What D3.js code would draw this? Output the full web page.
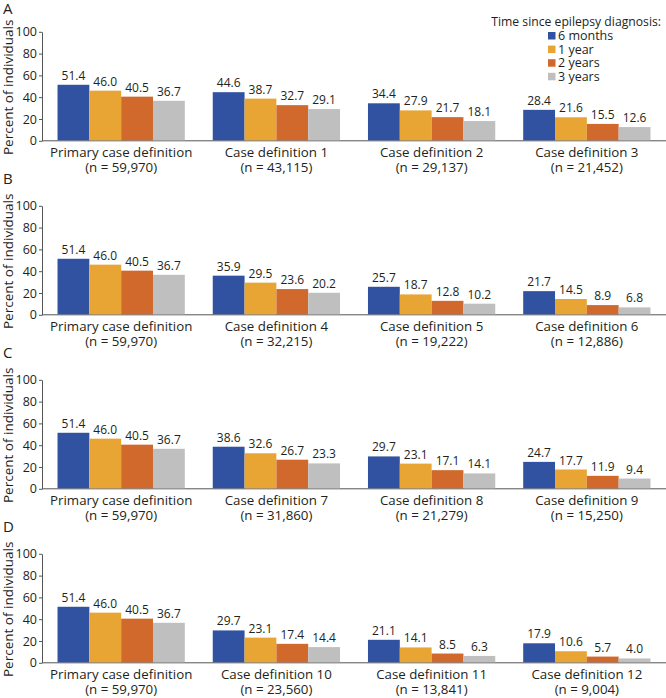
<!DOCTYPE html>
<html>
<head>
<meta charset="utf-8">
<script src="https://cdn.jsdelivr.net/npm/d3@7"></script>
<style>
  html, body { margin: 0; padding: 0; background: #fff; }
  svg { display: block; font-family: "Open Sans", sans-serif; }
</style>
</head>
<body>
<svg id="chart" width="666" height="698"></svg>
<script>
// ---------- data ----------
const seriesNames = ["6 months", "1 year", "2 years", "3 years"];
const seriesColors = ["#3152a0", "#e8a534", "#d0692b", "#bfbfbf"];
const legendTitle = "Time since epilepsy diagnosis:";
const panelLetters = ["A", "B", "C", "D"];
const yTicks = [0, 20, 40, 60, 80, 100];
const yLabel = "Percent of individuals";

const categoriesA = ["Primary case definition", "Case definition 1", "Case definition 2", "Case definition 3"];
const nA = ["59,970", "43,115", "29,137", "21,452"];
const valuesA = [[51.4, 46.0, 40.5, 36.7], [44.6, 38.7, 32.7, 29.1], [34.4, 27.9, 21.7, 18.1], [28.4, 21.6, 15.5, 12.6]];

const categoriesB = ["Primary case definition", "Case definition 4", "Case definition 5", "Case definition 6"];
const nB = ["59,970", "32,215", "19,222", "12,886"];
const valuesB = [[51.4, 46.0, 40.5, 36.7], [35.9, 29.5, 23.6, 20.2], [25.7, 18.7, 12.8, 10.2], [21.7, 14.5, 8.9, 6.8]];

const categoriesC = ["Primary case definition", "Case definition 7", "Case definition 8", "Case definition 9"];
const nC = ["59,970", "31,860", "21,279", "15,250"];
const valuesC = [[51.4, 46.0, 40.5, 36.7], [38.6, 32.6, 26.7, 23.3], [29.7, 23.1, 17.1, 14.1], [24.7, 17.7, 11.9, 9.4]];

const categoriesD = ["Primary case definition", "Case definition 10", "Case definition 11", "Case definition 12"];
const nD = ["59,970", "23,560", "13,841", "9,004"];
const valuesD = [[51.4, 46.0, 40.5, 36.7], [29.7, 23.1, 17.4, 14.4], [21.1, 14.1, 8.5, 6.3], [17.9, 10.6, 5.7, 4.0]];

// ---------- layout ----------
const panels = [
  { cats: categoriesA, n: nA, vals: valuesA },
  { cats: categoriesB, n: nB, vals: valuesB },
  { cats: categoriesC, n: nC, vals: valuesC },
  { cats: categoriesD, n: nD, vals: valuesD }
];
const svg = d3.select("#chart");
const textColor = "#231f20";
const axisColor = "#555";
const axisX = 42, rightX = 666;
const plotH = 109;
const panelTop0 = 31.8, panelStep = 174;
const letterY = [14, 184, 358, 532];

const x0 = d3.scaleBand().domain(d3.range(4)).range([axisX, rightX]).paddingInner(0.18).paddingOuter(0.1);
const x1 = d3.scaleBand().domain(d3.range(4)).range([0, x0.bandwidth()]).padding(0);

panels.forEach((p, pi) => {
  const top = panelTop0 + pi * panelStep;
  const y = d3.scaleLinear().domain([0, 100]).range([top + plotH, top]);
  const g = svg.append("g");

  // panel letter
  g.append("text").attr("x", 3).attr("y", letterY[pi])
    .attr("font-size", 15).attr("fill", textColor).text(panelLetters[pi]);

  // y label
  g.append("text")
    .attr("transform", `translate(12.5,${top + plotH / 2 + 1}) rotate(-90)`)
    .attr("text-anchor", "middle").attr("font-size", 13.5).attr("fill", textColor)
    .text(yLabel);

  // y axis
  const ya = g.append("g").attr("transform", `translate(${axisX},0)`)
    .call(d3.axisLeft(y).tickValues(yTicks).tickSize(3).tickSizeOuter(0).tickPadding(2));
  ya.select(".domain").attr("stroke", axisColor);
  ya.selectAll(".tick line").attr("stroke", axisColor);
  ya.selectAll(".tick text").attr("font-size", 12.5).attr("fill", textColor)
    .attr("font-family", "Open Sans, sans-serif");

  // x baseline
  g.append("line").attr("x1", axisX).attr("x2", rightX)
    .attr("y1", y(0)).attr("y2", y(0)).attr("stroke", axisColor).attr("stroke-width", 1);

  // groups
  p.vals.forEach((vals, gi) => {
    const gg = g.append("g").attr("transform", `translate(${x0(gi)},0)`);
    gg.selectAll("rect").data(vals).enter().append("rect")
      .attr("x", (d, i) => x1(i)).attr("width", x1.bandwidth())
      .attr("y", d => y(d)).attr("height", d => y(0) - y(d) - 0.5)
      .attr("fill", (d, i) => seriesColors[i]);
    gg.selectAll("text.val").data(vals).enter().append("text").attr("class", "val")
      .attr("x", (d, i) => x1(i) + x1.bandwidth() / 2).attr("y", d => y(d) - 5)
      .attr("text-anchor", "middle").attr("font-size", 12).attr("fill", textColor)
      .text(d => d.toFixed(1));
    gg.append("text").attr("x", x0.bandwidth() / 2).attr("y", y(0) + 16.5)
      .attr("text-anchor", "middle").attr("font-size", 13.3).attr("fill", textColor)
      .text(p.cats[gi]);
    gg.append("text").attr("x", x0.bandwidth() / 2).attr("y", y(0) + 31.5)
      .attr("text-anchor", "middle").attr("font-size", 13.3).attr("fill", textColor)
      .text(`(n = ${p.n[gi]})`);
  });
});

// legend
const lg = svg.append("g");
lg.append("text").attr("x", 661).attr("y", 26).attr("text-anchor", "end")
  .attr("font-size", 12.2).attr("fill", textColor).text(legendTitle);
seriesNames.forEach((s, i) => {
  const yy = 40 + i * 13.6;
  lg.append("rect").attr("x", 548).attr("y", yy - 8).attr("width", 7.5).attr("height", 7.5)
    .attr("fill", seriesColors[i]);
  lg.append("text").attr("x", 558).attr("y", yy).attr("font-size", 12.5)
    .attr("fill", textColor).text(s);
});
</script>
</body>
</html>
